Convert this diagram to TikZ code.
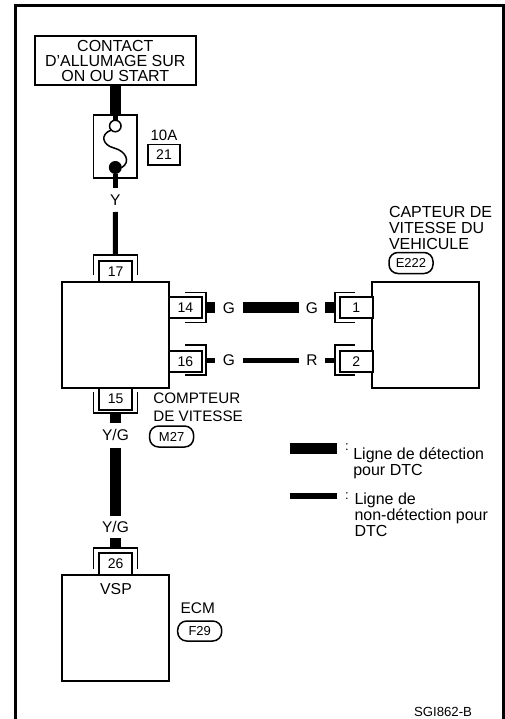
\documentclass[tikz,border=0pt]{standalone}
\usepackage{fontspec}
\setmainfont{Liberation Sans}
\usetikzlibrary{positioning}
\newcommand{\fsize}[1]{\fontsize{#1}{16}\selectfont}
\tikzset{unitbox/.style={rectangle,draw=black,fill=white,line width=2pt,
inner sep=0pt,outer sep=0pt,minimum width=106.7pt,minimum height=105.4pt}}
\tikzset{pinbox/.style={rectangle,draw=black,fill=white,line width=2pt,
inner sep=0pt,outer sep=0pt,minimum width=32.5pt,minimum height=21pt,font=\fsize{14}}}
\tikzset{brackbox/.style={rectangle,draw=none,inner sep=0pt,outer sep=0pt}}
\tikzset{brackline/.style={draw=black,line width=1.5pt}}
\tikzset{wirethick/.style={draw=black,line width=11pt}}
\tikzset{wirethin/.style={draw=black,line width=5pt}}
\tikzset{wirelabel/.style={rectangle,draw=none,inner sep=0pt,outer sep=0pt,font=\fsize{15.5}}}
\tikzset{caption/.style={rectangle,draw=none,inner sep=0pt,outer sep=0pt,anchor=west,align=left,font=\fsize{16}}}
\tikzset{pillbox/.style={rectangle,rounded corners=9pt,draw=black,line width=1.5pt,
inner sep=0pt,outer sep=0pt,minimum width=44pt,minimum height=21pt,font=\fsize{13}}}

\begin{document}
\begin{tikzpicture}[x=1pt,y=-1pt]
    \useasboundingbox (0,0) rectangle (505,719);

    \coordinate (frameA) at (15.5,719);
    \coordinate (frameB) at (15.5,6);
    \coordinate (frameC) at (503,6);
    \coordinate (frameD) at (503,719);
    \draw [line width=3pt,line join=miter] (frameA) -- (frameB) -- (frameC) -- (frameD);

    \node[rectangle,draw=black,line width=2pt,inner sep=0pt,outer sep=0pt,minimum width=160.7pt,minimum height=49pt,
        align=center,font=\fsize{16}] (boxContact) at (115.3,60.5) {\raisebox{-1pt}{CONTACT}\\[-1pt]\raisebox{-1pt}{D'ALLUMAGE SUR}\\[-1pt]\raisebox{-1pt}{ON OU START}};
    \node[rectangle,draw=black,line width=1.5pt,inner sep=0pt,outer sep=0pt,minimum width=43.5pt,minimum height=63pt] (boxFuse) at (115.3,146.5) {};
    \draw [wirethick] (boxContact) -- (boxFuse);

    \node[circle,draw=black,line width=1.5pt,fill=white,inner sep=0pt,outer sep=0pt,minimum size=11.5pt] (fuseOpen) at (115.3,126) {};
    \node[circle,fill=black,inner sep=0pt,outer sep=0pt,minimum size=13pt] (fuseDot) at (115.3,167.5) {};
    \draw [wirethin] (boxFuse.north) -- (fuseOpen.north);
    \draw [line width=1.5pt] (fuseOpen.south west) .. controls (100,134) and (102,145) .. (114,148) .. controls (126,151) and (131,162) .. (fuseDot.east);

    \node[wirelabel,font=\fsize{15}] (lblFuse) at (164,135) {10A};
    \node[rectangle,draw=black,line width=1.5pt,inner sep=0pt,outer sep=0pt,minimum width=32pt,minimum height=20.5pt,font=\fsize{14}] (boxFuseNo) [below=4pt of lblFuse] {21};

    \node[wirelabel,minimum height=24pt] (lblY) at (115.3,200) {Y};
    \draw [wirethin] (fuseDot) -- (lblY);

    \node[unitbox] (boxMeter) at (115.65,335) {};
    \node[unitbox] (boxSensor) at (425.5,335) {};
    \node[unitbox,minimum height=105.5pt] (boxEcm) at (115.65,627.75) {};

    % connectors of the meter
    \node[pinbox] (pinA) [above=0pt of boxMeter] {17};
    \node[pinbox] (pinB) at (185.3,307.3) {14};
    \node[pinbox] (pinC) at (185.3,361.3) {16};
    \node[pinbox,minimum height=22pt] (pinD) [below=0pt of boxMeter] {15};
    \node[pinbox,minimum height=22pt] (pinE) [above=0pt of boxEcm] {26};
    \node[pinbox] (pinF) at (356.3,307.3) {1};
    \node[pinbox] (pinG) at (356.3,361.3) {2};

    \node[brackbox,minimum width=44pt,minimum height=20pt] (brackA) at (115.5,265) {};
    \node[brackbox,minimum width=21pt,minimum height=30pt] (brackB) at (195.5,307.7) {};
    \node[brackbox,minimum width=21pt,minimum height=30pt] (brackC) at (195.5,360) {};
    \node[brackbox,minimum width=44pt,minimum height=21pt] (brackD) at (115.5,402.7) {};
    \node[brackbox,minimum width=44pt,minimum height=21pt] (brackE) at (115.5,558.5) {};
    \node[brackbox,minimum width=20pt,minimum height=30pt] (brackF) at (345,307.7) {};
    \node[brackbox,minimum width=20pt,minimum height=30pt] (brackG) at (345,360) {};

    \draw [brackline] (brackA.south west) -- (brackA.north west) -- (brackA.north east) -- (brackA.south east);
    \draw [brackline] (brackB.north west) -- (brackB.north east) -- (brackB.south east) -- (brackB.south west);
    \draw [brackline] (brackC.north west) -- (brackC.north east) -- (brackC.south east) -- (brackC.south west);
    \draw [brackline] (brackD.north west) -- (brackD.south west) -- (brackD.south east) -- (brackD.north east);
    \draw [brackline] (brackE.south west) -- (brackE.north west) -- (brackE.north east) -- (brackE.south east);
    \draw [brackline] (brackF.north east) -- (brackF.north west) -- (brackF.south west) -- (brackF.south east);
    \draw [brackline] (brackG.north east) -- (brackG.north west) -- (brackG.south west) -- (brackG.south east);

    % wires
    \draw [wirethin] (lblY) -- (brackA.north);

    \node[wirelabel,minimum width=28pt] (lblGa) at (229,307.7) {G};
    \node[wirelabel,minimum width=26pt] (lblGb) at (312,307.7) {G};
    \draw [wirethick] (brackB.east) -- (lblGa.west);
    \draw [wirethick] (lblGa.east) -- (lblGb.west);
    \draw [wirethick] (lblGb.east) -- (brackF.west);

    \node[wirelabel,minimum width=28pt] (lblGc) at (229,360) {G};
    \node[wirelabel,minimum width=26pt] (lblR) at (312,360) {R};
    \draw [wirethin] (brackC.east) -- (lblGc.west);
    \draw [wirethin] (lblGc.east) -- (lblR.west);
    \draw [wirethin] (lblR.east) -- (brackG.west);

    \node[wirelabel,minimum height=25pt] (lblYGa) at (115.5,435.4) {Y/G};
    \node[wirelabel,minimum height=22pt] (lblYGb) at (115.5,527) {Y/G};
    \draw [wirethick] (brackD.south) -- (lblYGa.north);
    \draw [wirethick] (lblYGa.south) -- (lblYGb.north);
    \draw [wirethick] (lblYGb.south) -- (brackE.north);

    % captions
    \node[caption] (txtSensor) at (389,228) {CAPTEUR DE\\VITESSE DU\\VEHICULE};
    \node[pillbox] (tagSensor) at (411,263) {E222};
    \node[caption,font=\fsize{15.2},text depth=0pt] (txtMeter) at (153.3,406.7) {COMPTEUR\\[2pt]DE VITESSE};
    \node[pillbox,minimum height=21pt] (tagMeter) at (171.6,436.5) {M27};
    \node[wirelabel,font=\fsize{15.8}] (txtVsp) at (116,589) {VSP};
    \node[caption,font=\fsize{15.4}] (txtEcm) at (180.7,608) {ECM};
    \node[pillbox,minimum height=20pt] (tagEcm) at (199.7,631) {F29};

    % legend
    \coordinate (legThickL) at (289.5,448.3);
    \coordinate (legThickR) at (337,448.3);
    \coordinate (legThinL) at (289.5,496.4);
    \coordinate (legThinR) at (337,496.4);
    \draw [line width=10.5pt] (legThickL) -- (legThickR);
    \draw [line width=6pt] (legThinL) -- (legThinR);
    \node[wirelabel,font=\fsize{13}] (colonA) at (347,447) {:};
    \node[wirelabel,font=\fsize{13}] (colonB) at (347,496) {:};
    \node[caption] (txtThick) at (353.3,463) {Ligne de détection\\pour DTC};
    \node[caption] (txtThin) at (354.5,515) {Ligne de\\non-détection pour\\DTC};

    \node[wirelabel,font=\fsize{13.2}] (txtCode) at (443,711.7) {SGI862-B};
\end{tikzpicture}
\end{document}
